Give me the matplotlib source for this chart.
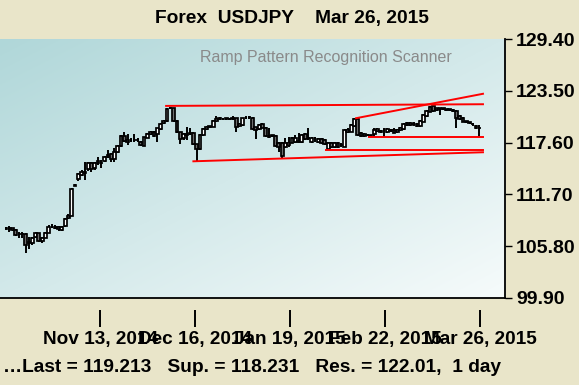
import numpy as np
import matplotlib
matplotlib.use("Agg")
import matplotlib.pyplot as plt
from matplotlib.colors import LinearSegmentedColormap
from matplotlib.transforms import blended_transform_factory

plt.rcParams['font.family'] = ['Liberation Sans', 'DejaVu Sans']

# daily USDJPY bars, Oct 2014 - Mar 26 2015
opens = [107.82, 107.74, 107.82, 107.63, 107.14, 107.21, 107.14, 106.11, 106.11, 106.87,
         107.25, 106.41, 106.79, 107.33, 107.93, 107.97, 107.93, 107.67, 108.09, 108.96,
         109.27, 112.69, 113.41, 113.91, 114.10, 114.59, 115.32, 114.67, 115.24, 115.24,
         115.54, 115.92, 116.27, 115.70, 116.50, 117.26, 118.40, 117.90, 117.87, 117.90,
         117.87, 117.71, 117.26, 118.17, 118.55, 118.78, 118.55, 119.12, 119.81, 120.07,
         121.52, 121.52, 120.11, 118.78, 118.09, 118.47, 118.63, 118.66, 117.41, 116.84,
         118.47, 119.12, 119.39, 119.43, 120.07, 120.34, 120.26, 120.30, 120.28, 120.30,
         120.38, 119.50, 119.62, 120.38, 120.49, 120.45, 119.35, 119.12, 119.69, 119.31,
         118.28, 118.36, 118.36, 117.60, 117.60, 117.07, 117.33, 117.60, 117.71, 117.71,
         117.71, 118.55, 118.09, 117.71, 118.09, 117.71, 117.98, 117.90, 116.84, 117.60,
         117.07, 117.52, 117.33, 117.14, 118.85, 118.85, 119.54, 120.30, 118.66, 118.59,
         118.47, 118.36, 118.55, 118.93, 118.93, 119.04, 118.85, 118.93, 119.04, 118.78,
         119.04, 119.16, 119.62, 119.81, 119.69, 119.73, 119.54, 120.00, 120.64, 121.14,
         121.78, 121.52, 121.44, 121.44, 121.33, 121.33, 121.25, 121.25, 120.68, 120.45,
         120.00, 119.88, 119.69, 119.54, 119.31]
highs = [108.01, 108.09, 107.90, 107.71, 107.44, 107.44, 107.25, 106.87, 106.87, 107.44,
         107.33, 106.87, 107.44, 108.20, 108.28, 108.20, 108.09, 108.09, 108.96, 109.42,
         112.39, 112.84, 114.10, 114.48, 115.43, 115.43, 115.43, 115.43, 116.00, 115.62,
         116.08, 116.76, 116.38, 116.95, 117.33, 118.47, 118.85, 118.55, 118.09, 118.55,
         118.09, 117.79, 118.28, 118.66, 118.93, 118.93, 119.31, 119.81, 120.19, 121.52,
         121.67, 121.59, 120.19, 118.85, 118.66, 119.43, 119.24, 118.78, 117.49, 118.55,
         119.24, 119.54, 119.54, 120.19, 120.68, 120.57, 120.45, 120.45, 120.45, 120.64,
         120.45, 119.81, 120.45, 120.60, 120.68, 120.53, 119.43, 119.69, 119.81, 119.39,
         119.24, 118.47, 118.47, 117.71, 117.71, 118.09, 118.28, 118.28, 118.47, 118.66,
         118.55, 118.66, 119.24, 118.28, 118.28, 118.17, 118.17, 118.02, 117.71, 117.71,
         117.71, 117.64, 117.52, 119.12, 119.24, 119.69, 120.38, 120.38, 118.78, 118.66,
         118.59, 118.47, 119.24, 119.24, 119.04, 119.24, 119.24, 119.12, 119.24, 119.16,
         119.43, 119.81, 120.00, 119.92, 119.92, 119.81, 120.19, 120.83, 121.33, 121.82,
         121.82, 121.59, 121.59, 121.52, 121.44, 121.44, 121.37, 121.33, 120.76, 120.53,
         120.11, 120.00, 119.81, 119.62, 119.62]
lows = [107.63, 107.44, 107.52, 106.98, 106.68, 106.68, 105.08, 105.46, 105.99, 106.75,
        106.30, 106.22, 106.68, 107.25, 107.82, 107.71, 107.52, 107.52, 108.01, 108.89,
        109.19, 112.61, 113.22, 113.83, 113.34, 114.36, 114.29, 114.48, 115.05, 114.75,
        115.43, 115.81, 115.43, 115.43, 116.38, 117.14, 117.71, 117.33, 117.71, 117.71,
        117.64, 117.26, 117.22, 118.09, 118.47, 118.28, 117.71, 119.04, 119.69, 120.00,
        121.37, 120.00, 118.66, 117.41, 117.90, 117.90, 118.47, 117.33, 115.43, 116.76,
        118.40, 119.04, 119.31, 119.35, 120.00, 120.19, 120.15, 120.19, 120.19, 120.22,
        118.78, 119.39, 119.54, 120.30, 120.30, 119.04, 117.98, 119.01, 119.24, 118.28,
        118.17, 118.21, 117.14, 116.57, 115.81, 116.95, 117.14, 117.52, 117.52, 117.52,
        117.52, 117.90, 117.90, 117.60, 117.71, 117.60, 117.41, 117.33, 116.72, 116.95,
        116.95, 117.03, 117.14, 117.07, 118.74, 118.78, 119.43, 118.40, 118.28, 118.28,
        118.32, 118.28, 118.28, 118.85, 118.74, 118.28, 118.74, 118.78, 118.66, 118.66,
        118.93, 119.08, 119.54, 119.54, 119.54, 119.43, 119.43, 119.92, 120.57, 121.06,
        121.14, 121.21, 120.76, 121.29, 121.21, 121.21, 121.14, 119.24, 120.19, 119.92,
        119.85, 119.73, 119.54, 119.16, 118.21]
closes = [107.84, 107.86, 107.63, 107.06, 107.21, 107.14, 105.99, 106.30, 106.75, 107.33,
          106.41, 106.79, 107.33, 107.93, 108.01, 107.90, 107.71, 107.93, 108.92, 109.27,
          112.27, 112.73, 113.98, 114.29, 114.29, 115.32, 114.59, 115.24, 115.54, 115.32,
          116.00, 116.19, 115.70, 116.50, 117.26, 118.40, 117.79, 117.71, 117.94, 117.94,
          117.83, 117.33, 118.21, 118.55, 118.78, 118.40, 119.24, 119.73, 120.07, 121.40,
          121.50, 120.11, 118.78, 118.02, 118.55, 118.63, 118.66, 117.41, 116.84, 118.47,
          119.12, 119.43, 119.43, 120.07, 120.30, 120.38, 120.30, 120.28, 120.30, 120.34,
          119.43, 119.69, 120.38, 120.45, 120.53, 119.12, 119.04, 119.62, 119.31, 118.36,
          118.36, 118.32, 117.22, 117.07, 116.08, 117.52, 117.60, 118.17, 118.17, 117.75,
          118.47, 118.02, 118.06, 118.17, 118.06, 117.98, 117.52, 117.41, 117.60, 117.07,
          117.60, 117.14, 117.29, 119.04, 119.04, 119.62, 120.30, 118.47, 118.36, 118.36,
          118.43, 118.40, 119.04, 119.12, 118.85, 119.01, 119.12, 118.95, 118.74, 119.04,
          119.31, 119.69, 119.81, 119.62, 119.71, 119.50, 120.07, 120.76, 121.21, 121.71,
          121.25, 121.33, 121.42, 121.40, 121.31, 121.29, 121.23, 120.45, 120.30, 120.00,
          119.98, 119.85, 119.65, 119.24, 119.21]

# pattern lines: (bar index, price) pairs
res_top_x, res_top_y = [48.7, 145.1], [121.78, 121.97]
sup_low_x, sup_low_y = [57.0, 145.1], [115.47, 116.50]
mid_flat_x, mid_flat_y = [97.4, 145.1], [116.76, 116.76]
sup_flat_x, sup_flat_y = [110.4, 145.1], [118.21, 118.21]
rising_x, rising_y = [106.5, 145.1], [120.38, 123.16]

y_ticks = [99.90, 105.80, 111.70, 117.60, 123.50, 129.40]
x_tick_pos = [28.6, 57.5, 86.4, 115.3, 144.2]
x_tick_labels = ['Nov 13, 2014', 'Dec 16, 2014', 'Jan 19, 2015', 'Feb 22, 2015', 'Mar 26, 2015']

title = 'Forex  USDJPY    Mar 26, 2015'
subtitle = 'Ramp Pattern Recognition Scanner'
footer = '\u2026Last = 119.213   Sup. = 118.231   Res. = 122.01,  1 day'

bg = '#E9E5C9'
fig = plt.figure(figsize=(5.79, 3.85), dpi=100, facecolor=bg)
ax = fig.add_axes([0.0, 0.226, 0.8722, 0.6727])

# diagonal gradient background
cmap = LinearSegmentedColormap.from_list('bgg', ['#B0D7D9', '#F6FBFB'])
gx, gy = np.meshgrid(np.linspace(0, 1, 200), np.linspace(0, 1, 200))
grad = (gx + gy) / 2
ax.imshow(grad, cmap=cmap, extent=[0, 1, 0, 1], transform=ax.transAxes,
          aspect='auto', origin='upper', zorder=0)

idx = np.arange(len(closes))
o = np.array(opens)
c = np.array(closes)
up = c >= o
ax.vlines(idx, lows, highs, color='black', lw=1.4, zorder=2)
body = np.where(np.abs(c - o) < 0.05, 0.05, c - o)
ax.bar(idx, body, bottom=o, width=0.85,
       color=np.where(up, 'white', '#6E6E6E'), edgecolor='black', linewidth=1.25, zorder=3)

for lx, ly in [(res_top_x, res_top_y), (sup_low_x, sup_low_y), (mid_flat_x, mid_flat_y),
               (sup_flat_x, sup_flat_y), (rising_x, rising_y)]:
    ax.plot(lx, ly, color='#FF0000', lw=1.4, zorder=4)

ax.set_xlim(-1.83, 151.8)
ax.set_ylim(99.90, 129.40)

ax.yaxis.tick_right()
ax.set_yticks(y_ticks)
ax.set_yticklabels(['%.2f' % v for v in y_ticks], fontsize=14, fontweight='bold')
ax.tick_params(axis='y', length=5, width=1, pad=3, color='black')

ax.set_xticks(x_tick_pos)
ax.set_xticklabels(x_tick_labels, fontsize=13.7, fontweight='bold')
ax.tick_params(axis='x', length=0, pad=24)
trans = blended_transform_factory(ax.transData, ax.transAxes)
ax.vlines(x_tick_pos, -0.112, -0.046, color='black', lw=1.4, transform=trans, clip_on=False)

for s in ['left', 'top']:
    ax.spines[s].set_visible(False)
for s in ['right', 'bottom']:
    ax.spines[s].set_linewidth(1.3)

fig.text(0.505, 1 - 19 / 385, title, ha='center', va='center', fontsize=13.8, fontweight='bold')
ax.text(0.645, 0.93, subtitle, transform=ax.transAxes, ha='center', va='center',
        fontsize=11.5, color='#8A8A8A', zorder=5)
fig.text(3 / 579, 1 - 368 / 385, footer, ha='left', va='center', fontsize=13.8, fontweight='bold')

plt.savefig('out.png', dpi=100, facecolor=bg)
